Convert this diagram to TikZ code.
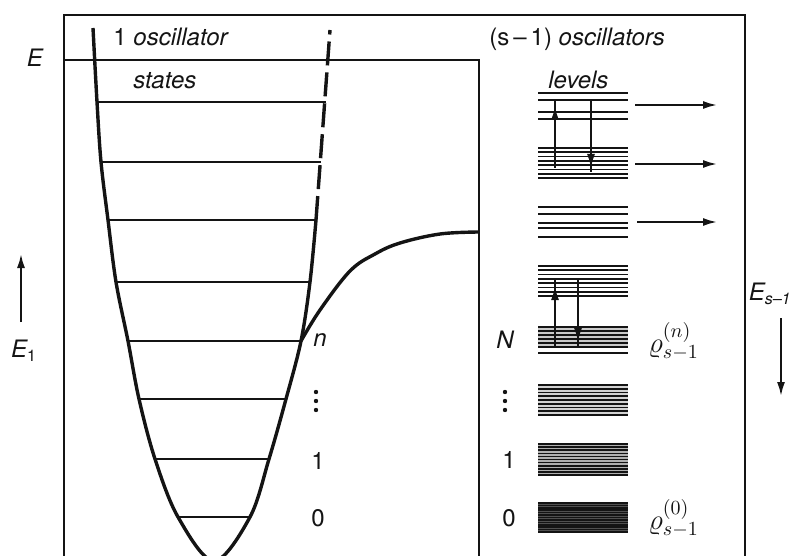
\documentclass[tikz,border=0pt]{standalone}
\usepackage{fontspec}
\setmainfont{TeX Gyre Heros}
\usetikzlibrary{arrows.meta,calc}
\definecolor{ink}{RGB}{20,20,20}
\definecolor{bandfill}{RGB}{80,80,80}

\tikzset{
  stateline/.style={draw=ink,line width=1.15pt},
  bandline/.style={draw=ink,line width=0.8pt},
  well/.style={draw=ink,line width=1.7pt},
  lbl/.style={font=\fontsize{12}{14}\selectfont\itshape,text=ink,inner sep=0pt},
  num/.style={font=\fontsize{12}{14}\selectfont,text=ink,inner sep=0pt},
  arr/.style={draw=ink,line width=1pt,-{Latex[length=7pt,width=4pt]}},
}

%Band of n+1 equally spaced levels between y=#1 and y=#2
\newcommand{\levelband}[3]{\foreach \k in {0,...,#3}{\draw[bandline] (538,{#1+(#2-#1)*\k/#3})--(628,{#1+(#2-#1)*\k/#3});}}
%Three vertical dots centred at x=#1, y=#2
\newcommand{\stackdots}[2]{\foreach \d in {-9,0,9}{\fill[ink] (#1,{#2+\d}) circle (2.2);}}

\begin{document}
\begin{tikzpicture}[x=0.5pt,y=-0.5pt] %one unit is one pixel of the 793 x 556 picture, y downwards
\useasboundingbox (0,0) rectangle (793,556);
\clip (0,0) rectangle (793,556); %the frame and the well run off the bottom edge
\draw[ink,line width=1.2pt] (64,556)--(64,15)--(745,15)--(745,556); %Outer frame
\draw[ink,line width=1.1pt] (64,60)--(479,60)--(479,556); %Total energy E and separator

%1 oscillator: potential well with its states
\draw[well] plot[smooth,tension=0.55] coordinates {(93,28) (97,102) (101,162) (108,220) (116,282) (128,341) (139,399) (155,459) (178,517) (214,561) (250,517) (269,459) (286,399) (301,341) (310,282) (316,220)};
\draw[well,dash pattern=on 12pt off 3.5pt] (316,220)--(330,30); %Dashed upper branch
\draw[well] plot[smooth,tension=0.6] coordinates {(301,341) (320,310) (350,271) (375,254) (400,243) (440,234) (479,232)}; %Coupling curve
\draw[stateline] (97,102)--(326,102);
\draw[stateline] (101,162)--(321,162);
\draw[stateline] (108,220)--(316,220);
\draw[stateline] (116,282)--(310,282);
\draw[stateline] (128,341)--(301,341);
\draw[stateline] (139,399)--(286,399);
\draw[stateline] (155,459)--(269,459);
\draw[stateline] (178,517)--(250,517);

%(s-1) oscillators: bands of levels
\draw[bandline] (538,93)--(628,93);
\draw[bandline] (538,100)--(628,100);
\draw[bandline] (538,112)--(628,112);
\draw[bandline] (538,119)--(628,119);
\levelband{148}{178}{7}
\draw[bandline] (538,207)--(628,207);
\draw[bandline] (538,214)--(628,214);
\draw[bandline] (538,223)--(628,223);
\draw[bandline] (538,228)--(628,228);
\draw[bandline] (538,237)--(628,237);
\levelband{266}{296}{7}
\fill[bandfill!30] (538,327) rectangle (628,347);
\levelband{327}{347}{5}
\draw[bandline] (538,353)--(628,353);
\fill[bandfill!25] (538,385) rectangle (628,415);
\levelband{385}{415}{8}
\fill[bandfill!45] (538,444) rectangle (628,475);
\levelband{444}{475}{10}
\fill[bandfill] (538,503) rectangle (628,532);
\levelband{503}{532}{12}

%Transitions between levels
\coordinate (t1a) at (555,100); \coordinate (t1b) at (555,168);
\coordinate (t2a) at (591,100); \coordinate (t2b) at (591,172);
\coordinate (t3a) at (555,278); \coordinate (t3b) at (555,347);
\coordinate (t4a) at (578,278); \coordinate (t4b) at (578,348);
\draw[ink,line width=1pt] (t1a)--(t1b);
\draw[ink,line width=1pt] (t2a)--(t2b);
\draw[ink,line width=1pt] (t3a)--(t3b);
\draw[ink,line width=1pt] (t4a)--(t4b);
\draw[arr] ($(t1a)+(0,24)$)--($(t1a)+(0,6)$);
\draw[arr] ($(t2b)+(0,-24)$)--($(t2b)+(0,-4)$);
\draw[arr] ($(t3a)+(0,26)$)--($(t3a)+(0,8)$);
\draw[arr] ($(t4b)+(0,-26)$)--($(t4b)+(0,-6)$);

%Outgoing arrows
\coordinate (o1a) at (635,105); \coordinate (o1b) at (717,105);
\coordinate (o2a) at (635,164); \coordinate (o2b) at (717,164);
\coordinate (o3a) at (637,222); \coordinate (o3b) at (717,222);
\draw[arr] (o1a)--(o1b);
\draw[arr] (o2a)--(o2b);
\draw[arr] (o3a)--(o3b);

%Energy axes
\coordinate (e1a) at (21,322); \coordinate (e1b) at (21,254);
\coordinate (esa) at (781,318); \coordinate (esb) at (781,396);
\draw[arr] (e1a)--(e1b);
\draw[arr] (esa)--(esb);

%Labels
\node[lbl] (lE) at (35,58) {E};
\node[lbl] (lEone) at (24,351) {E\textsubscript{\upshape 1}};
\node[lbl,anchor=east] (lEs) at (792,294) {E\textsubscript{s–1}};
\node[lbl,anchor=west] (lone) at (113,37) {\upshape 1 \itshape oscillator};
\node[lbl,anchor=west] (lstates) at (133,81) {states};
\node[lbl,anchor=west] (lmany) at (489,39) {\upshape (s\,–\,1) \itshape oscillators};
\node[lbl,anchor=west] (llevels) at (548,80) {levels};
\node[lbl] (ln) at (320,340) {n};
\stackdots{316}{401}
\node[num] (lone1) at (318,461) {1};
\node[num] (lzero) at (318,518) {0};
\node[lbl] (lN) at (505,340) {N};
\stackdots{505}{401}
\node[num] (lONE) at (509,460) {1};
\node[num] (lZERO) at (509,518) {0};
\node[num,anchor=west] (rhon) at (648,341) {\Large$\varrho^{(n)}_{s-1}$};
\node[num,anchor=west] (rhoz) at (648,518) {\Large$\varrho^{(0)}_{s-1}$};
\end{tikzpicture}
\end{document}
